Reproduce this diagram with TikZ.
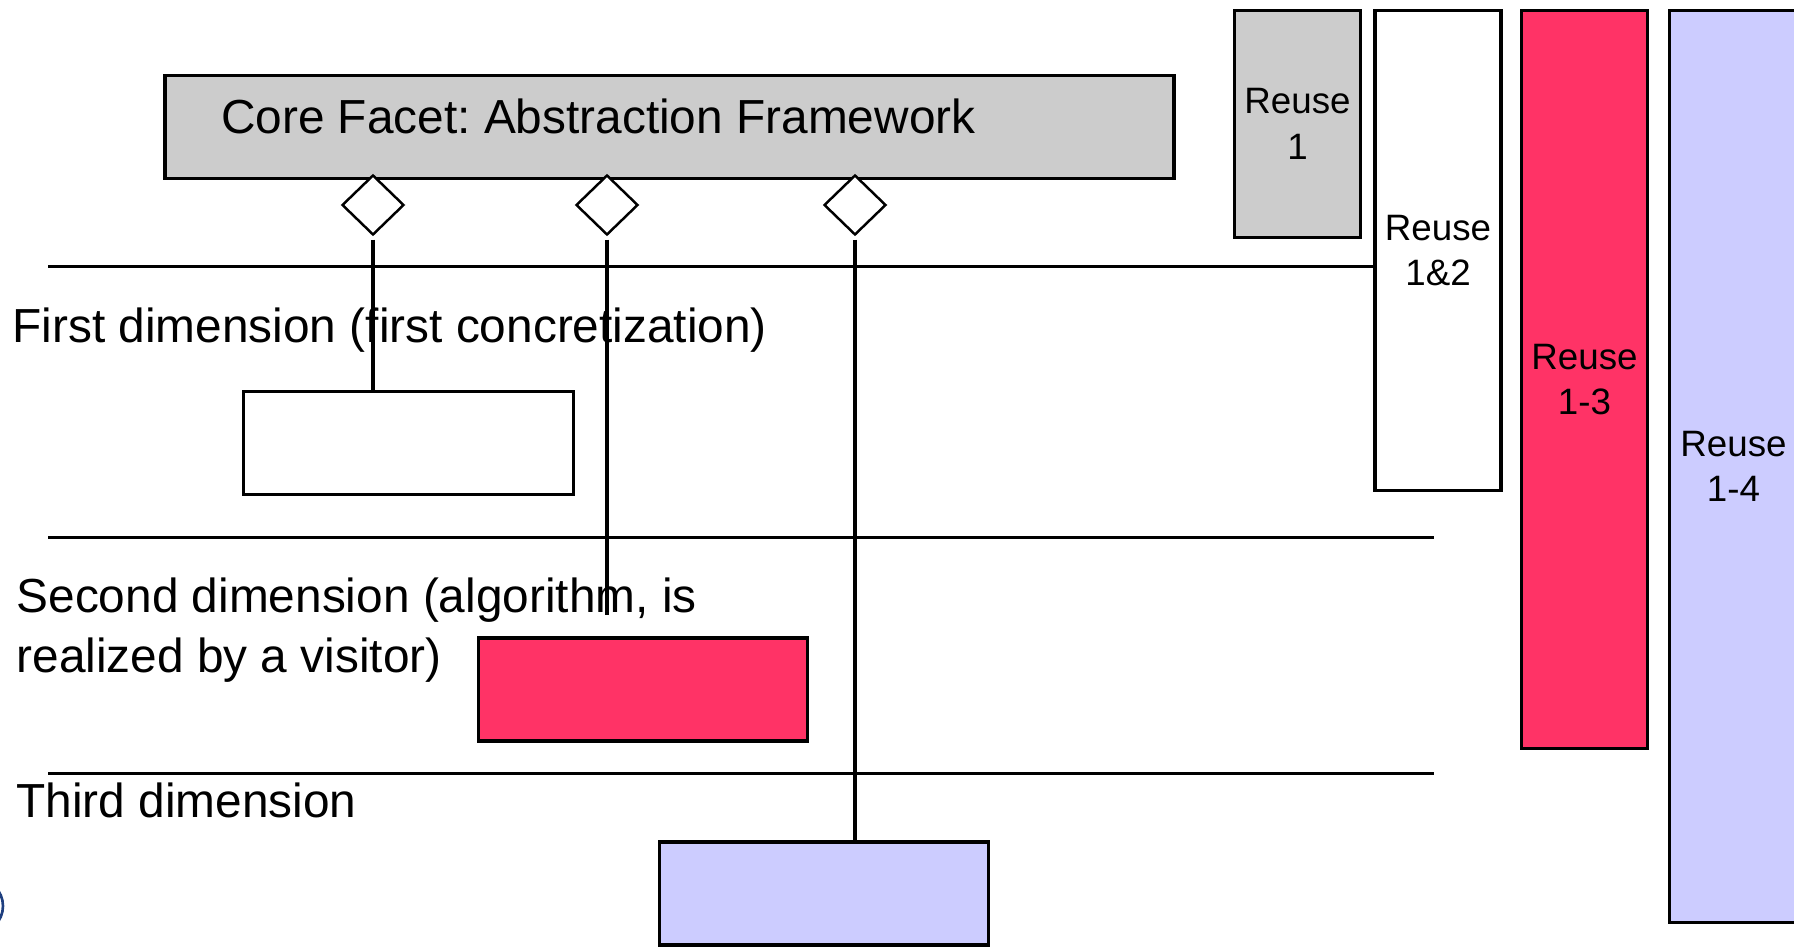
\documentclass[tikz,border=0pt]{standalone}
\usepackage{fontspec}
\setmainfont{Liberation Sans}
\usepackage{tikz}
\usetikzlibrary{positioning,shapes.geometric}
\definecolor{facetgrey}{HTML}{CCCCCC}
\definecolor{facetred}{HTML}{FF3366}
\definecolor{facetblue}{HTML}{CCCCFF}
\definecolor{logoblue}{HTML}{1F3F7F}
\newcommand{\dimfont}{\fontsize{27.2}{34}\selectfont}
\newcommand{\reusefont}{\fontsize{20.9}{26}\selectfont}
\frenchspacing

\begin{document}
\begin{tikzpicture}[
    line width=1.8pt,
    box/.style={draw, minimum width=6.59cm, minimum height=2.06cm, inner sep=0pt},
    reuse/.style={draw, minimum width=2.52cm, inner sep=0pt, align=center, font=\reusefont},
    hub/.style={draw, diamond, fill=white, line width=1.4pt, minimum width=1.24cm, minimum height=1.2cm, inner sep=0pt},
    dimtext/.style={anchor=west, align=left, inner sep=0pt, font=\dimfont}]
  \useasboundingbox (0,0) rectangle (35.88,-18.94);
  \node[box, fill=facetgrey, minimum width=20.18cm] (core) at (13.39,-2.54) {};
  \node[dimtext] (coretext) at (4.39,-2.33) {Core Facet: Abstraction Framework};
  \node[hub] (hubA) at (7.46,-4.10) {};
  \node[hub] (hubB) at (12.14,-4.10) {};
  \node[hub] (hubC) at (17.10,-4.10) {};
  \node[box, fill=white]     (firstbox)  at (8.17,-8.86)  {};
  \node[box, fill=facetred]  (secondbox) at (12.86,-13.79) {};
  \node[box, fill=facetblue] (thirdbox)  at (16.48,-17.87) {};
  \node[reuse, fill=facetgrey, minimum height=4.55cm]  (reuseA) at (25.95,-2.48) {Reuse\\1};
  \node[reuse, fill=white, minimum height=9.61cm]      (reuseB) at (28.76,-5.01) {Reuse\\1\&2};
  \node[reuse, fill=facetred, minimum height=14.76cm]  (reuseC) at (31.69,-7.59) {Reuse\\1-3};
  \node[reuse, fill=facetblue, minimum width=2.56cm, minimum height=18.23cm] (reuseD) at (34.67,-9.33) {Reuse\\1-4};
  \node[dimtext] (firstlbl)  at (0.22,-6.61)  {First dimension (first concretization)};
  \node[dimtext] (secondlbl) at (0.30,-12.61) {Second dimension (algorithm, is\\realized by a visitor)};
  \node[dimtext] (thirdlbl)  at (0.30,-16.00) {Third dimension};
  \coordinate (laneA) at (0.96,-5.33);
  \coordinate (laneB) at (0.96,-10.75);
  \coordinate (laneBend) at (28.67,-10.75);
  \coordinate (laneC) at (0.96,-15.47);
  \coordinate (laneCend) at (28.67,-15.47);
  \coordinate (tipB) at (12.14,-12.29);
  \draw (laneA) -- (laneA -| reuseB.west);
  \draw (laneB) -- (laneBend);
  \draw (laneC) -- (laneCend);
  \draw ([yshift=-2pt]hubA.south) -- (hubA.south |- firstbox.north);
  \draw ([yshift=-2pt]hubB.south) -- (tipB);
  \draw ([yshift=-2pt]hubC.south) -- (hubC.south |- thirdbox.north);
  \draw[logoblue, line width=1.5pt] (-0.49,-18.12) circle (0.55);
\end{tikzpicture}
\end{document}
